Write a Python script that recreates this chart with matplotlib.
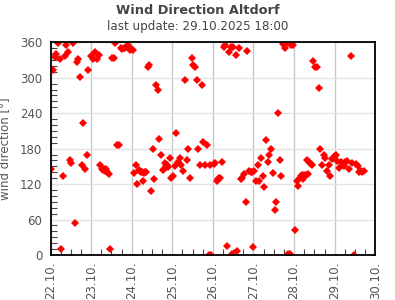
import pandas as pd
import matplotlib
matplotlib.use("Agg")
import matplotlib.pyplot as plt
import matplotlib.dates as mdates

# Hours since 22.10.2025 00:00 and wind direction in degrees
hours = [
    0.2, 1.5, 2.7, 3.5, 4.5, 5.7, 6.3, 7.5, 8.6, 9.2, 10.4, 11.6, 12.2, 13.4,
    14.6, 15.7, 16.3, 17.5, 18.7, 19.3, 20.5, 21.7, 22.2, 23.7, 24.6, 25.2,
    26.4, 27.6, 28.8, 29.3, 30.3, 30.9, 31.5, 32.1, 32.7, 33.5, 34.7, 35.3,
    36.4, 37.6, 38.2, 39.4, 40.6, 41.6, 42.4, 43.4, 44.0, 45.3, 46.0, 46.9,
    47.8, 48.5, 49.5, 50.6, 51.2, 52.4, 53.0, 53.6, 54.2, 54.8, 55.4, 56.0,
    56.6, 57.7, 58.3, 59.5, 60.7, 61.3, 62.5, 63.7, 64.2, 65.4, 66.6, 67.2,
    67.8, 68.4, 69.0, 69.6, 70.8, 71.3, 72.5, 73.7, 74.3, 75.5, 76.7, 77.3,
    78.4, 79.6, 80.8, 81.4, 82.6, 83.8, 84.4, 85.5, 86.7, 87.3, 88.5, 89.7,
    90.3, 91.5, 92.6, 93.8, 94.4, 95.0, 96.8, 97.4, 98.6, 99.2, 99.7, 100.3,
    101.5, 102.7, 103.3, 104.5, 105.7, 106.8, 107.4, 108.0, 109.8, 110.4,
    111.6, 112.8, 113.4, 114.5, 115.7, 116.3, 117.5, 118.7, 119.3, 119.9,
    120.5, 121.6, 122.8, 123.4, 124.6, 125.8, 126.4, 127.5, 128.7, 129.3,
    130.5, 131.7, 132.9, 133.5, 134.6, 135.8, 136.4, 137.6, 138.8, 139.4,
    140.6, 141.7, 142.3, 143.5, 144.7, 145.9, 146.5, 147.7, 148.2, 148.8,
    149.4, 150.0, 151.2, 151.8, 152.4, 153.0, 154.2, 154.8, 155.4, 156.5,
    157.7, 158.9, 159.5, 160.7, 161.9, 162.5, 163.6, 164.8, 165.4, 166.6,
    167.2, 167.8, 168.4, 169.0, 169.6, 170.7, 171.9, 172.5, 173.1, 173.7,
    174.3, 175.5, 176.7, 177.8, 178.4, 179.6, 180.8, 182.0, 182.6, 183.8,
    184.4, 185.5,
]
direction = [
    145, 313, 335, 340, 358, 331, 10, 134, 336, 355, 343, 160, 155, 358,
    55, 326, 331, 302, 152, 223, 145, 170, 313, 336, 336, 331,
    343, 331, 338, 152, 145, 144, 146, 143, 145, 140, 137, 11,
    334, 333, 358, 187, 186, 351, 348, 350, 350, 353, 355, 347,
    348, 347, 138, 152, 120, 144, 143, 141, 141, 125, 139, 141,
    141, 318, 321, 108, 179, 128, 287, 279, 196, 170, 144, 146,
    155, 150, 152, 149, 164, 131, 133, 150, 206, 157, 164, 152,
    142, 296, 160, 179, 130, 333, 321, 319, 297, 179, 152, 287,
    192, 152, 187, 0, 152, 0, 154, 155, 126, 128, 130, 131,
    157, 352, 355, 16, 343, 352, 1, 352, 338, 6,
    350, 128, 130, 137, 89, 345, 142, 140, 141, 13,
    143, 126, 152, 125, 164, 133, 115, 194, 157, 170,
    179, 138, 76, 89, 241, 160, 133, 357, 350, 357,
    1, 1, 355, 355, 43, 125, 116, 131, 133, 136,
    129, 136, 136, 160, 137, 157, 154, 152, 328, 318,
    318, 282, 179, 152, 170, 164, 143, 152, 133, 162,
    164, 166, 168, 170, 159, 147, 157, 155, 152, 150,
    157, 159, 145, 336, 155, 0, 154, 150, 141, 143,
    141, 143,
]

title = "Wind Direction Altdorf"
subtitle = "last update: 29.10.2025 18:00"
y_ticks = [0, 60, 120, 180, 240, 300, 360]

start = pd.Timestamp("2025-10-22 00:00")
times = start + pd.to_timedelta(hours, unit="h")

fig = plt.figure(figsize=(3.95, 3.0), dpi=100)
ax = fig.add_axes([0.128, 0.15, 0.822, 0.709])

ax.plot(times, direction, linestyle="none", marker="D", markersize=3.6,
        color="#ff0000", markeredgewidth=0)

ax.set_xlim(start, start + pd.Timedelta(days=8))
ax.set_ylim(0, 360)
ax.set_yticks(y_ticks)
ax.yaxis.set_minor_locator(matplotlib.ticker.MultipleLocator(10))

ax.xaxis.set_major_locator(mdates.DayLocator())
ax.xaxis.set_major_formatter(mdates.DateFormatter("%d.%m."))
ax.xaxis.set_minor_locator(mdates.HourLocator(byhour=[6, 12, 18]))

ax.grid(axis="x", color="#c8c8c8", linewidth=1.0)
ax.grid(axis="y", color="#e2e2e2", linewidth=1.0)
ax.set_axisbelow(True)

for s in ax.spines.values():
    s.set_linewidth(1.3)
    s.set_color("black")

ax.tick_params(axis="both", which="major", direction="in", length=0,
               labelsize=8.5, labelcolor="#555555", pad=6)
ax.tick_params(axis="both", which="minor", direction="in", length=4,
               width=0.8, color="#444444")
ax.tick_params(axis="x", which="major", labelrotation=90, pad=5)

ax.set_ylabel("wind direction [°]", fontsize=8.5, color="#555555", labelpad=6)

fig.text(0.5, 0.965, title, ha="center", va="center", fontsize=9.3,
         fontweight="bold", color="#444444")
fig.text(0.5, 0.912, subtitle, ha="center", va="center", fontsize=8.6,
         color="#444444")

fig.savefig("out.png", dpi=100)
